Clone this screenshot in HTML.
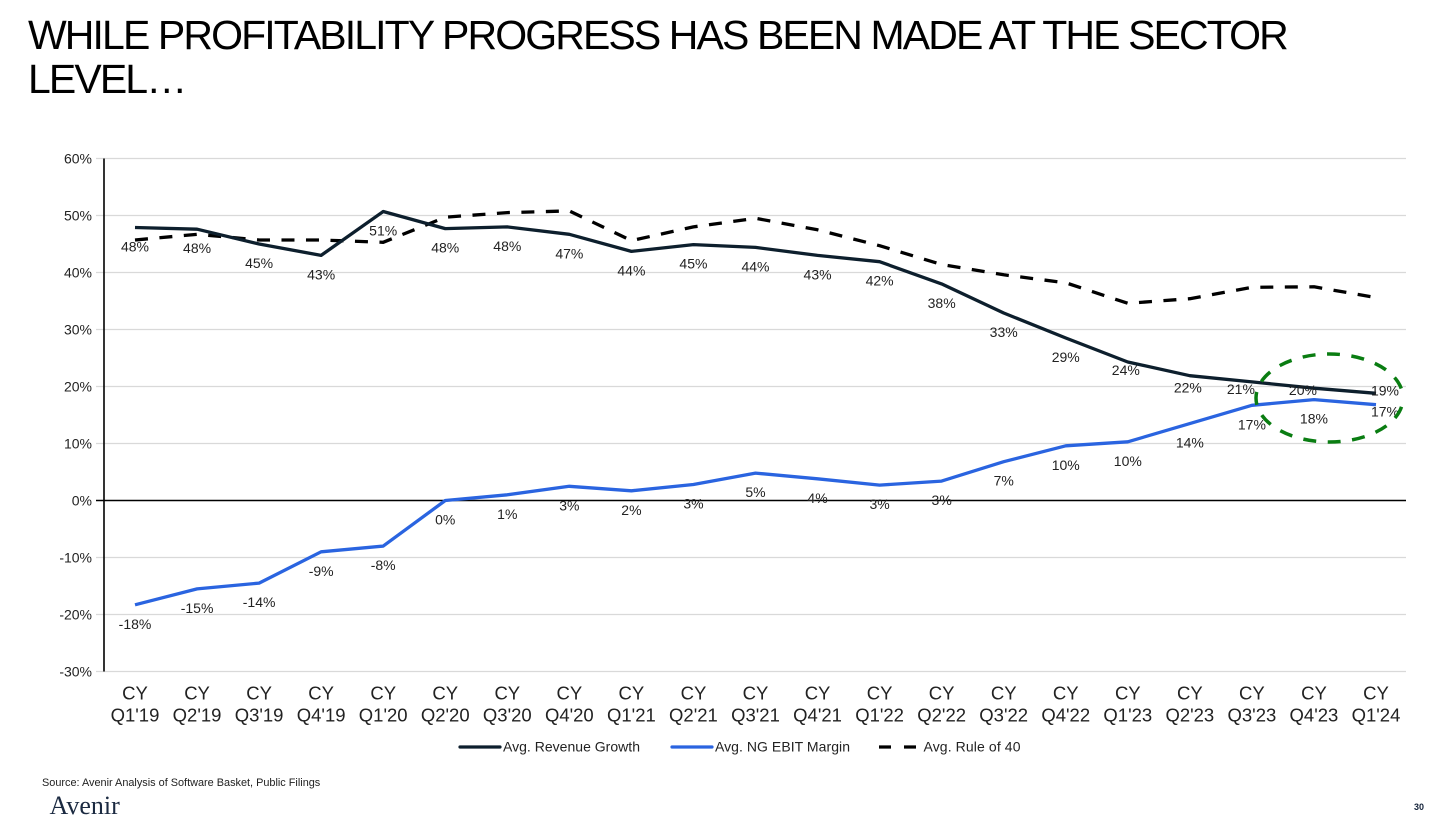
<!DOCTYPE html>
<html lang="en">
<head>
<meta charset="utf-8">
<title>Profitability progress at the sector level</title>
<style>
html,body{margin:0;padding:0;background:#fff;}
#slide{position:relative;width:1456px;height:828px;overflow:hidden;background:#fff;font-family:"Liberation Sans",Arial,sans-serif;color:#111;}
#title{position:absolute;left:28px;top:14px;margin:0;width:1400px;font-weight:400;font-size:41px;line-height:43.5px;letter-spacing:-1.89px;color:#000;}
#chart{position:absolute;left:0;top:0;}
#source{position:absolute;left:42px;top:776.5px;font-size:10.9px;line-height:13px;color:#222;}
#logo{position:absolute;left:49.5px;top:792px;font-family:"Liberation Serif",serif;font-size:26px;line-height:28px;color:#1b2a41;}
#page-number{position:absolute;left:1414px;top:802px;font-size:9px;line-height:11px;font-weight:700;color:#14233a;}
</style>
</head>
<body>
<div id="slide">
<h1 id="title">WHILE PROFITABILITY PROGRESS HAS BEEN MADE AT THE SECTOR<br>LEVEL…</h1>
<svg id="chart" width="1456" height="828" viewBox="0 0 1456 828">
<g id="grid"></g>
<g id="y-axis"></g>
<g id="x-axis"></g>
<g id="series"></g>
<g id="labels"></g>
<ellipse cx="1329.5" cy="398" rx="73.5" ry="44" fill="none" stroke="#0a7d12" stroke-width="3.5" stroke-dasharray="13 11.5" stroke-dashoffset="-9"></ellipse>
<g font-family="'Liberation Sans',Arial,sans-serif" font-size="14" fill="#222">
<g>
<line x1="460" y1="747" x2="500" y2="747" stroke="#0d1f2d" stroke-width="3.2" stroke-linecap="round"></line>
<text x="503" y="751.5" textLength="137">Avg. Revenue Growth</text>
</g>
<g>
<line x1="672" y1="747" x2="712" y2="747" stroke="#2a64e0" stroke-width="3.2" stroke-linecap="round"></line>
<text x="715" y="751.5" textLength="135">Avg. NG EBIT Margin</text>
</g>
<g>
<line x1="879" y1="747" x2="917" y2="747" stroke="#000" stroke-width="3.2" stroke-dasharray="12 13"></line>
<text x="923.5" y="751.5" textLength="97">Avg. Rule of 40</text>
</g>
</g>
</svg>
<div id="source">Source: Avenir Analysis of Software Basket, Public Filings</div>
<div id="logo">Avenir</div>
<div id="page-number">30</div>
</div>
<script>
const categories = ["Q1'19","Q2'19","Q3'19","Q4'19","Q1'20","Q2'20","Q3'20","Q4'20","Q1'21","Q2'21","Q3'21","Q4'21","Q1'22","Q2'22","Q3'22","Q4'22","Q1'23","Q2'23","Q3'23","Q4'23","Q1'24"];
const yTicks = [60,50,40,30,20,10,0,-10,-20,-30];
const revenueGrowth = [47.9,47.6,45.0,43.0,50.7,47.7,48.0,46.7,43.7,44.9,44.4,43.0,41.9,38.0,32.9,28.5,24.3,21.9,20.8,19.7,18.8];
const ebitMargin = [-18.3,-15.5,-14.5,-9.0,-8.0,0.0,1.0,2.5,1.7,2.8,4.8,3.8,2.7,3.4,6.8,9.6,10.3,13.5,16.7,17.7,16.8];
const ruleOf40 = [45.7,46.7,45.7,45.7,45.3,49.7,50.5,50.8,45.6,48.0,49.5,47.5,44.7,41.4,39.6,38.2,34.6,35.4,37.4,37.5,35.6];
const revenueLabels = ["48%","48%","45%","43%","51%","48%","48%","47%","44%","45%","44%","43%","42%","38%","33%","29%","24%","22%","21%","20%","19%"];
const marginLabels = ["-18%","-15%","-14%","-9%","-8%","0%","1%","3%","2%","3%","5%","4%","3%","3%","7%","10%","10%","14%","17%","18%","17%"];

const NS = 'http://www.w3.org/2000/svg';
const FONT = "'Liberation Sans',Arial,sans-serif";
function xScale(i){ return 135 + i * 62.05; }
function yScale(v){ return 500.5 - v * 5.7; }
function make(tag, attrs, parent){
  const el = document.createElementNS(NS, tag);
  for (const k in attrs) el.setAttribute(k, attrs[k]);
  parent.appendChild(el);
  return el;
}
const grid = document.getElementById('grid');
const yAxis = document.getElementById('y-axis');
const xAxis = document.getElementById('x-axis');
const seriesG = document.getElementById('series');
const labelsG = document.getElementById('labels');

yTicks.forEach(function(t){
  const y = yScale(t);
  const zero = t === 0;
  const line = make('line', {x1:96, x2:1406, y1:y, y2:y, stroke: zero ? '#000' : '#d9d9d9', 'stroke-width': zero ? 1.6 : 1.2}, grid);
  
  
  const txt = make('text', {x:92, y:y+5, 'text-anchor':'end', 'font-family':FONT, 'font-size':14, fill:'#222'}, yAxis);
  txt.textContent = t + '%';
  
  
});
const axisLine = make('line', {x1:104, x2:104, y1:yScale(60), y2:yScale(-30), stroke:'#000', 'stroke-width':1.6}, yAxis);



categories.forEach(function(c, i){
  const t1 = make('text', {x:xScale(i), y:699.5, 'text-anchor':'middle', 'font-family':FONT, 'font-size':18.5, fill:'#222'}, xAxis);
  t1.textContent = 'CY';
  
  
  const t2 = make('text', {x:xScale(i), y:721.5, 'text-anchor':'middle', 'font-family':FONT, 'font-size':18.5, fill:'#222'}, xAxis);
  t2.textContent = c;
  
  
});

function pathFor(values){
  return values.map(function(v, i){ return (i ? 'L' : 'M') + xScale(i).toFixed(1) + ' ' + yScale(v).toFixed(1); }).join(' ');
}
const ruleLine = make('path', {d:pathFor(ruleOf40), fill:'none', stroke:'#000', 'stroke-width':3.3, 'stroke-dasharray':'13 11.5', 'stroke-linejoin':'round'}, seriesG);


const revenueLine = make('path', {d:pathFor(revenueGrowth), fill:'none', stroke:'#0d1f2d', 'stroke-width':3.3, 'stroke-linejoin':'round'}, seriesG);


const marginLine = make('path', {d:pathFor(ebitMargin), fill:'none', stroke:'#2a64e0', 'stroke-width':3.3, 'stroke-linejoin':'round'}, seriesG);



/* Hand-placed labels at the crowded right end of the chart */
function revenueLabelShift(i){
  if (i === 16) return {dx:-2, dy:-11};
  if (i === 17) return {dx:-2, dy:-7};
  if (i === 18) return {dx:-11, dy:-12};
  if (i === 19) return {dx:-11, dy:-17};
  if (i === 20) return {dx:9, dy:-22};
  return {dx:0, dy:0};
}
function marginLabelShift(i){
  if (i === 20) return {dx:9, dy:-12};
  return {dx:0, dy:0};
}
function drawLabels(values, texts, shift, name){
  values.forEach(function(v, i){
    const s = shift(i);
    const t = make('text', {x:xScale(i)+s.dx, y:yScale(v)+24+s.dy, 'text-anchor':'middle', 'font-family':FONT, 'font-size':14, fill:'#222'}, labelsG);
    t.textContent = texts[i];
    
    
  });
}
drawLabels(revenueGrowth, revenueLabels, revenueLabelShift, 'revenue-growth-label');
drawLabels(ebitMargin, marginLabels, marginLabelShift, 'ebit-margin-label');
</script>
</body>
</html>
